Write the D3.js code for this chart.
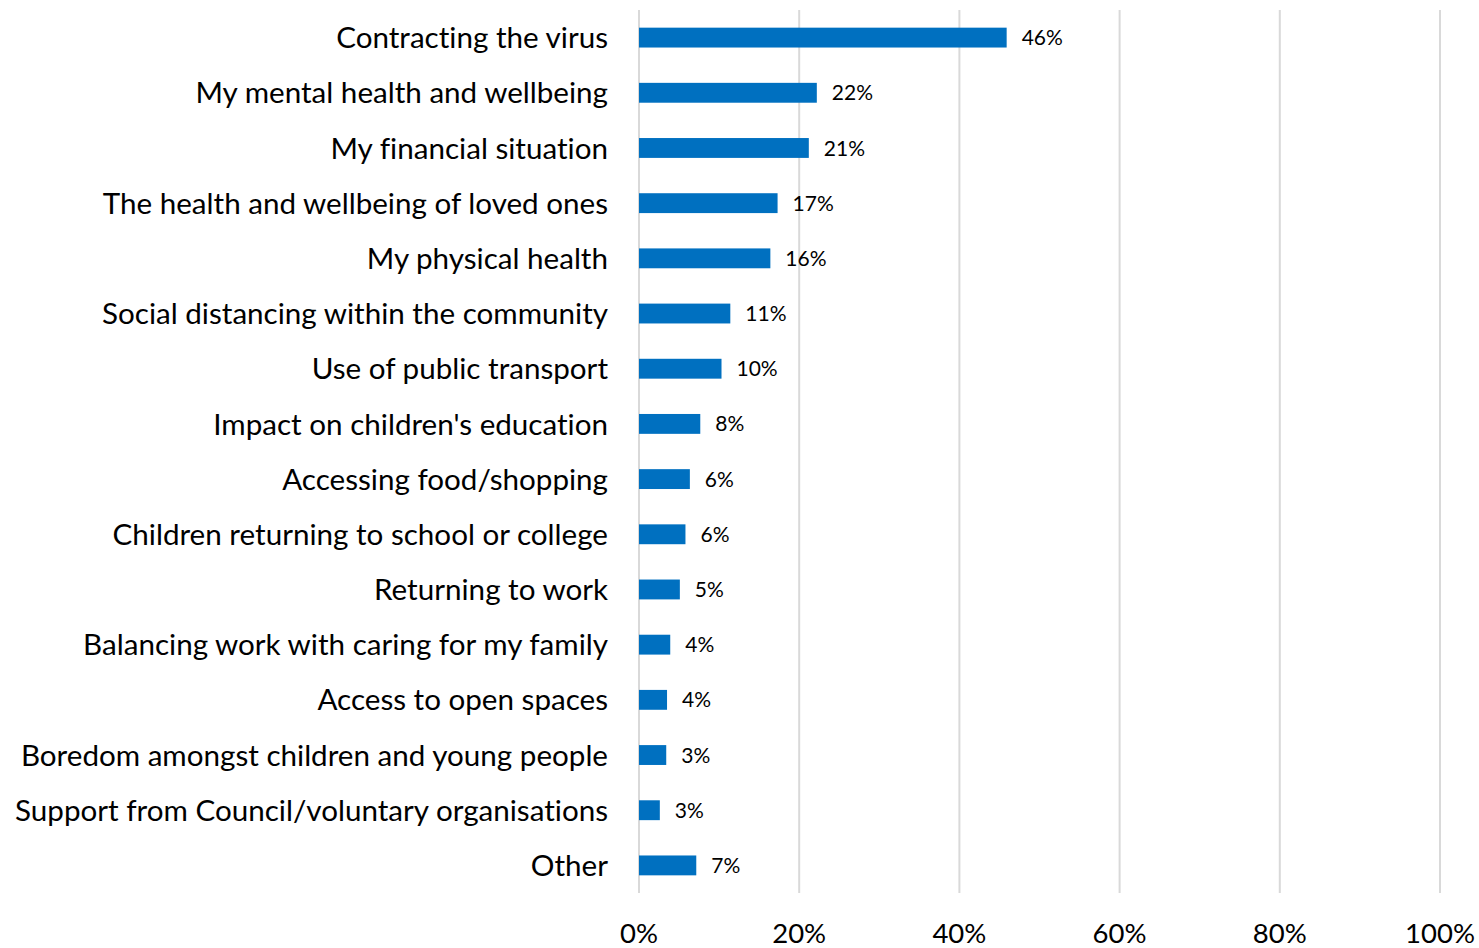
<!DOCTYPE html>
<html><head><meta charset="utf-8">
<script src="https://cdn.jsdelivr.net/npm/d3@7"></script>
<style>body{margin:0;background:#fff}svg{display:block}text{font-variant-ligatures:none;font-feature-settings:"liga" 0,"dlig" 0}</style>
</head><body>
<svg id="c" width="1479" height="948"></svg>
<script>
const categories = ["Contracting the virus","My mental health and wellbeing","My financial situation","The health and wellbeing of loved ones","My physical health","Social distancing within the community","Use of public transport","Impact on children's education","Accessing food/shopping","Children returning to school or college","Returning to work","Balancing work with caring for my family","Access to open spaces","Boredom amongst children and young people","Support from Council/voluntary organisations","Other"];
const values = [45.9,22.2,21.2,17.3,16.4,11.4,10.3,7.65,6.35,5.8,5.1,3.9,3.5,3.4,2.6,7.15];
const valueLabels = ["46%","22%","21%","17%","16%","11%","10%","8%","6%","6%","5%","4%","4%","3%","3%","7%"];
const ticks = [0,20,40,60,80,100];

const svg = d3.select("#c");
const font = "Lato, 'Open Sans', sans-serif";
const x = d3.scaleLinear().domain([0,100]).range([639,1440]);
const y = d3.scaleBand().domain(categories).range([10,893]).paddingInner(0.64).paddingOuter(0.32);

svg.append("g").selectAll("line").data(ticks).join("line")
  .attr("x1",d=>x(d)).attr("x2",d=>x(d)).attr("y1",10).attr("y2",893)
  .attr("stroke","#D9D9D9").attr("stroke-width",2);

svg.append("g").selectAll("rect").data(categories).join("rect")
  .attr("x",x(0)).attr("y",d=>y(d)).attr("height",y.bandwidth())
  .attr("width",(d,i)=>x(values[i])-x(0)).attr("fill","#0070C0");

svg.append("g").selectAll("text").data(categories).join("text")
  .attr("x",(d,i)=>x(values[i])+15).attr("y",d=>y(d)+y.bandwidth()/2)
  .attr("dy","0.36em").attr("font-family",font).attr("font-size",21).attr("fill","#000")
  .text((d,i)=>valueLabels[i]);

svg.append("g").selectAll("text").data(categories).join("text")
  .attr("x",608).attr("y",d=>y(d)+y.bandwidth()/2)
  .attr("dy","0.36em").attr("text-anchor","end").attr("font-family",font).attr("font-size",29.6).attr("fill","#000")
  .text(d=>d);

svg.append("g").selectAll("text").data(ticks).join("text")
  .attr("x",d=>x(d)).attr("y",943).attr("text-anchor","middle")
  .attr("font-family",font).attr("font-size",27.5).attr("fill","#000")
  .text(d=>d+"%");
</script>
</body></html>
